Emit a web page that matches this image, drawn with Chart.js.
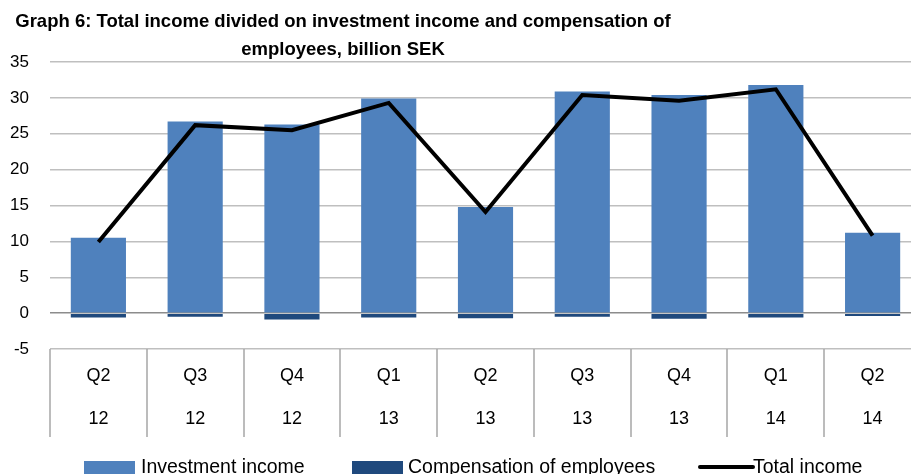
<!DOCTYPE html>
<html>
<head>
<meta charset="utf-8">
<script src="https://cdn.jsdelivr.net/npm/chart.js@4.4.0/dist/chart.umd.min.js"></script>
<style>
  html, body { margin: 0; padding: 0; background: #fff; }
  #wrap { width: 911px; height: 474px; overflow: hidden; position: relative; }
  #box { width: 922px; height: 474px; position: absolute; left: 0; top: 0; }
</style>
</head>
<body>
<div id="wrap"><div id="box"><canvas id="chart"></canvas></div></div>
<script>
// Data (billion SEK)
const quarters = ['Q2', 'Q3', 'Q4', 'Q1', 'Q2', 'Q3', 'Q4', 'Q1', 'Q2'];
const years = ['12', '12', '12', '13', '13', '13', '13', '14', '14'];
const investmentIncome = [10.5, 26.7, 26.3, 29.9, 14.8, 30.9, 30.4, 31.8, 11.2];
const compensation = [-0.6, -0.5, -0.9, -0.6, -0.7, -0.5, -0.8, -0.6, -0.4];
const totalIncome = [9.9, 26.2, 25.5, 29.3, 14.1, 30.4, 29.6, 31.2, 10.8];
const yTicks = [-5, 0, 5, 10, 15, 20, 25, 30, 35];

const titleLines = [
    'Graph 6: Total income divided on investment income and compensation of',
    'employees, billion SEK'
];

const BLUE = '#4f81bd';
const NAVY = '#1f497d';
const FONT = "'Liberation Sans', Arial, sans-serif";

// Title, category separators and legend are drawn by hand
const extrasPlugin = {
    id: 'extras',
    afterDraw(chart) {
        const ctx = chart.ctx;
        const x = chart.scales.x;
        const area = chart.chartArea;
        ctx.save();

        // separators between category labels
        ctx.strokeStyle = '#a6a6a6';
        ctx.lineWidth = 1.5;
        const half = (x.getPixelForValue(1) - x.getPixelForValue(0)) / 2;
        for (let i = 0; i <= quarters.length; i++) {
            const px = Math.round(x.getPixelForValue(0) - half + i * half * 2);
            ctx.beginPath();
            ctx.moveTo(px, area.bottom);
            ctx.lineTo(px, x.bottom);
            ctx.stroke();
        }

        // title
        ctx.fillStyle = '#000';
        ctx.font = 'bold 18.5px ' + FONT;
        ctx.textAlign = 'center';
        ctx.textBaseline = 'middle';
        ctx.fillText(titleLines[0], 343, 22);
        ctx.fillText(titleLines[1], 343, 50);

        // legend
        const ly = 468;
        ctx.font = '19.5px ' + FONT;
        ctx.textAlign = 'left';
        ctx.fillStyle = BLUE;
        ctx.fillRect(84, 461, 51, 13);
        ctx.fillStyle = '#000';
        ctx.fillText('Investment income', 141, ly);
        ctx.fillStyle = NAVY;
        ctx.fillRect(352, 461, 51, 13);
        ctx.fillStyle = '#000';
        ctx.fillText('Compensation of employees', 408, ly);
        ctx.strokeStyle = '#000';
        ctx.lineWidth = 4;
        ctx.lineCap = 'round';
        ctx.beginPath();
        ctx.moveTo(700, 467);
        ctx.lineTo(753, 467);
        ctx.stroke();
        ctx.fillText('Total income', 753, ly);
        ctx.restore();
    }
};

const ctx = document.getElementById('chart');
new Chart(ctx, {
    type: 'bar',
    data: {
        labels: quarters.map((q, i) => [q, years[i]]),
        datasets: [
            {
                type: 'line',
                label: 'Total income',
                data: totalIncome,
                borderColor: '#000',
                borderWidth: 4,
                pointRadius: 0,
                tension: 0,
                fill: false,
                stack: 'total',
                order: 0
            },
            {
                label: 'Investment income',
                data: investmentIncome,
                backgroundColor: BLUE,
                stack: 'bars',
                order: 1
            },
            {
                label: 'Compensation of employees',
                data: compensation,
                backgroundColor: NAVY,
                stack: 'bars',
                order: 1
            }
        ]
    },
    options: {
        responsive: true,
        maintainAspectRatio: false,
        animation: false,
        datasets: {
            bar: {
                barPercentage: 0.57,
                categoryPercentage: 1
            }
        },
        layout: {
            padding: { top: 62, right: 1, bottom: 37, left: 0 }
        },
        plugins: {
            legend: { display: false },
            tooltip: { enabled: false }
        },
        scales: {
            x: {
                stacked: true,
                grid: { display: false, drawTicks: false },
                border: { display: false },
                ticks: {
                    color: '#000',
                    font: { family: FONT, size: 18, lineHeight: 2.39 },
                    padding: 6,
                    maxRotation: 0,
                    autoSkip: false
                },
                afterFit(scale) { scale.height = 88; }
            },
            y: {
                stacked: true,
                min: -5,
                max: 35,
                afterBuildTicks(scale) {
                    scale.ticks = yTicks.map(v => ({ value: v }));
                },
                grid: {
                    color: ctx => ctx.tick && ctx.tick.value === 0 ? '#8c8c8c' : '#bfbfbf',
                    lineWidth: 1.5,
                    drawTicks: false
                },
                border: { display: false },
                ticks: {
                    color: '#000',
                    font: { family: FONT, size: 17 },
                    padding: 21
                },
                afterFit(scale) { scale.width = 50; }
            }
        }
    },
    plugins: [extrasPlugin]
});
</script>
</body>
</html>
